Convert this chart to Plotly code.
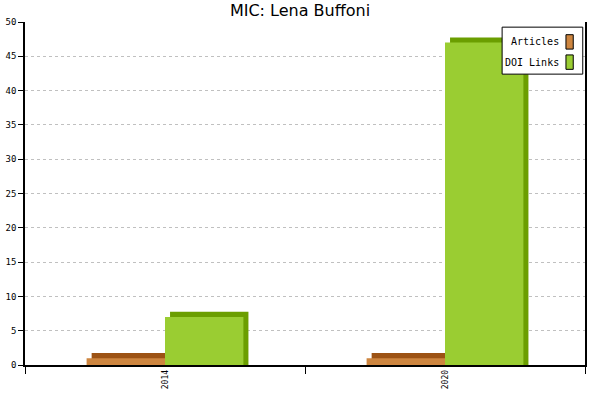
"""
MIC: Lena Buffoni - 年度文章与 DOI 链接数量柱状图（仿 3D 效果）
"""
import plotly.graph_objects as go

# 数据
years = ['2014', '2020']
series_names = ['Articles', 'DOI Links']
articles = [1, 1]
doi_links = [7, 47]

# 样式
FACE_COLORS = ['#CD853F', '#9ACD32']
DEPTH_COLORS = ['#9C5214', '#6B9E00']
MONO = 'DejaVu Sans Mono'
BAR_W = 0.28
DX = 0.018   # 3D 深度（x 方向，类别单位）
DY = 0.75    # 3D 深度（y 方向，数值单位）

fig = go.Figure()

for i, (name, vals) in enumerate(zip(series_names, [articles, doi_links])):
    offset = -BAR_W + i * BAR_W
    # 深色“侧面/顶面”，向右上偏移
    fig.add_trace(go.Bar(
        x=years, y=[v + DY for v in vals],
        width=BAR_W, offset=offset + DX,
        marker=dict(color=DEPTH_COLORS[i], line=dict(width=0)),
        showlegend=False, hoverinfo='skip',
    ))
    # 正面
    fig.add_trace(go.Bar(
        x=years, y=vals, name=name,
        width=BAR_W, offset=offset,
        marker=dict(color=FACE_COLORS[i], line=dict(width=0)),
        showlegend=False,
    ))

# 自定义图例（文字在左，色块在右）
fig.add_shape(type='rect', xref='paper', yref='paper',
              x0=0.852, x1=0.996, y0=0.848, y1=0.985,
              line=dict(color='black', width=1), fillcolor='white')
legend_y = [0.942, 0.883]
for i, name in enumerate(series_names):
    fig.add_annotation(xref='paper', yref='paper', x=0.958, y=legend_y[i],
                       text=name, showarrow=False, xanchor='right',
                       yanchor='middle',
                       font=dict(family=MONO, size=10, color='black'))
    fig.add_shape(type='rect', xref='paper', yref='paper',
                  x0=0.966, x1=0.979,
                  y0=legend_y[i] - 0.021, y1=legend_y[i] + 0.021,
                  line=dict(color='black', width=1),
                  fillcolor=FACE_COLORS[i])

fig.update_layout(
    title=dict(text='MIC: Lena Buffoni', x=0.5, xanchor='center',
               y=0.975, yanchor='middle', automargin=False,
               font=dict(family='DejaVu Sans', size=16, color='black')),
    barmode='overlay',
    width=600, height=400,
    paper_bgcolor='white', plot_bgcolor='white',
    margin=dict(l=25, r=15, t=22, b=35),
    xaxis=dict(type='category', range=[-0.5, 1.5], tickson='boundaries',
               ticks='outside', ticklen=7, tickcolor='black',
               showline=True, linecolor='black', linewidth=1.5,
               showgrid=False, tickangle=-90, automargin=False,
               tickfont=dict(family=MONO, size=8, color='black')),
    yaxis=dict(range=[0, 50], dtick=5, ticks='outside', ticklen=5,
               tickcolor='black', showline=True, linecolor='black',
               linewidth=1.5, mirror=True, automargin=False,
               showgrid=True, gridcolor='#C0C0C0', griddash='dot',
               zeroline=False,
               tickfont=dict(family=MONO, size=9, color='black')),
)

# 去掉页面默认边距，使图表贴齐窗口左上角；隐藏工具栏
fig.write_html('out.html',
               config={'displayModeBar': False},
               post_script="document.body.style.margin = '0';")
